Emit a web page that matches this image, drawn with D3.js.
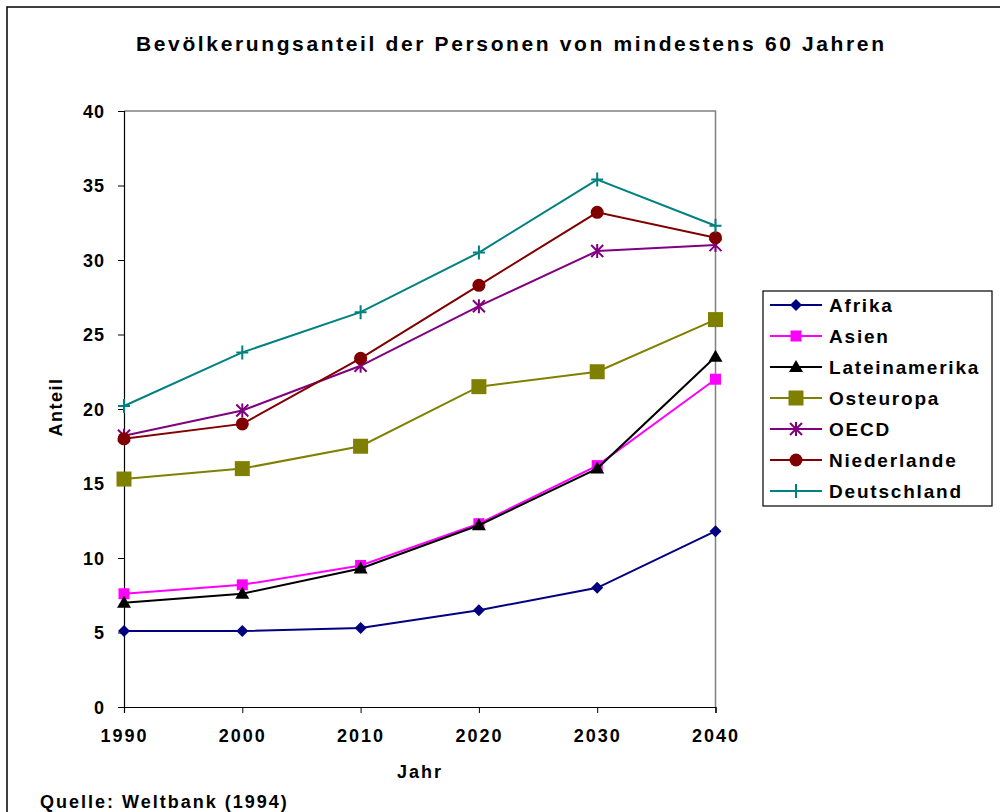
<!DOCTYPE html>
<html><head><meta charset="utf-8">
<script src="https://cdn.jsdelivr.net/npm/d3@7/dist/d3.min.js"></script>
<style>body{margin:0;background:#fff}svg{display:block}text{font-family:"Liberation Sans",Arial,sans-serif;font-weight:bold}</style>
</head><body>
<svg id="c" width="1000" height="812"></svg>
<script>
const years = [1990, 2000, 2010, 2020, 2030, 2040];
const afrika = [5.1, 5.1, 5.3, 6.5, 8.0, 11.8];
const asien = [7.6, 8.2, 9.5, 12.3, 16.2, 22.0];
const lateinamerika = [7.0, 7.6, 9.3, 12.2, 16.0, 23.5];
const osteuropa = [15.3, 16.0, 17.5, 21.5, 22.5, 26.0];
const oecd = [18.2, 19.9, 22.9, 26.9, 30.6, 31.0];
const niederlande = [18.0, 19.0, 23.4, 28.3, 33.2, 31.5];
const deutschland = [20.2, 23.8, 26.5, 30.5, 35.4, 32.3];
const yTicks = [0, 5, 10, 15, 20, 25, 30, 35, 40];

const series = [
  {name: "Afrika", values: afrika, color: "#000080", marker: "diamond"},
  {name: "Asien", values: asien, color: "#ff00ff", marker: "square"},
  {name: "Lateinamerika", values: lateinamerika, color: "#000000", marker: "triangle"},
  {name: "Osteuropa", values: osteuropa, color: "#808000", marker: "bigsquare"},
  {name: "OECD", values: oecd, color: "#800080", marker: "star"},
  {name: "Niederlande", values: niederlande, color: "#800000", marker: "circle"},
  {name: "Deutschland", values: deutschland, color: "#008080", marker: "plus"}
];

const svg = d3.select("#c");
const L = 124, R = 715.5, T = 111, B = 707;
const x = d3.scaleLinear().domain([1990, 2040]).range([L, R]);
const y = d3.scaleLinear().domain([0, 40]).range([B, T]);

// outer frame
svg.append("rect").attr("x", 7).attr("y", 7).attr("width", 1010).attr("height", 830)
  .attr("fill", "none").attr("stroke", "#000").attr("stroke-width", 1.5);

// title
svg.append("text").attr("x", 510).attr("y", 51).attr("text-anchor", "middle")
  .attr("font-size", 21).attr("textLength", 748).attr("lengthAdjust", "spacing")
  .text("Bevölkerungsanteil der Personen von mindestens 60 Jahren");

// plot area frame (top/right gray)
svg.append("path").attr("d", `M${L},${T}H${R}V${B}`).attr("fill", "none")
  .attr("stroke", "#808080").attr("stroke-width", 1.5);

// axes
const yAxis = d3.axisLeft(y).tickValues(yTicks).tickSize(6).tickPadding(13).tickFormat(d3.format("d"));
const gy = svg.append("g").attr("transform", `translate(${L},0)`).call(yAxis);
gy.select(".domain").attr("stroke", "#000").attr("stroke-width", 1.2);
gy.selectAll(".tick line").attr("stroke", "#000");
gy.selectAll("text").attr("font-size", 18).attr("font-family", "Liberation Sans, Arial, sans-serif")
  .attr("font-weight", "bold").attr("fill", "#000").attr("letter-spacing", 1).attr("dy", "0.35em");

const xAxis = d3.axisBottom(x).tickValues(years).tickSize(6).tickPadding(16).tickFormat(d3.format("d"));
const gx = svg.append("g").attr("transform", `translate(0,${B})`).call(xAxis);
gx.select(".domain").attr("stroke", "#000").attr("stroke-width", 1.2);
gx.selectAll(".tick line").attr("stroke", "#000");
gx.selectAll("text").attr("font-size", 18).attr("font-family", "Liberation Sans, Arial, sans-serif")
  .attr("font-weight", "bold").attr("fill", "#000").attr("letter-spacing", 2);

// axis labels
svg.append("text").attr("x", 420).attr("y", 778).attr("text-anchor", "middle").attr("font-size", 18)
  .attr("letter-spacing", 2).text("Jahr");
svg.append("text").attr("transform", "translate(62,407) rotate(-90)").attr("text-anchor", "middle")
  .attr("font-size", 18).attr("letter-spacing", 1.5).text("Anteil");
svg.append("text").attr("x", 40).attr("y", 808).attr("font-size", 18).attr("letter-spacing", 2)
  .text("Quelle: Weltbank (1994)");

function drawMarker(g, type, color) {
  switch (type) {
    case "diamond":
      g.append("path").attr("d", "M0,-6L6,0L0,6L-6,0Z").attr("fill", color); break;
    case "square":
      g.append("rect").attr("x", -5.5).attr("y", -5.5).attr("width", 11).attr("height", 11).attr("fill", color); break;
    case "bigsquare":
      g.append("rect").attr("x", -7.5).attr("y", -7.5).attr("width", 15).attr("height", 15).attr("fill", color); break;
    case "triangle":
      g.append("path").attr("d", "M0,-7L7,5L-7,5Z").attr("fill", color); break;
    case "circle":
      g.append("circle").attr("r", 6.5).attr("fill", color); break;
    case "star":
      g.append("path").attr("d", "M-6,-6L6,6M-6,6L6,-6M0,-7V7").attr("stroke", color).attr("stroke-width", 2).attr("fill", "none"); break;
    case "plus":
      g.append("path").attr("d", "M-6,0H6M0,-7V7").attr("stroke", color).attr("stroke-width", 2).attr("fill", "none"); break;
  }
}

const line = d3.line().x((d, i) => x(years[i])).y(d => y(d));
series.forEach(s => {
  svg.append("path").datum(s.values).attr("d", line).attr("fill", "none")
    .attr("stroke", s.color).attr("stroke-width", 2);
  s.values.forEach((v, i) => {
    const g = svg.append("g").attr("transform", `translate(${x(years[i])},${y(v)})`);
    drawMarker(g, s.marker, s.color);
  });
});

// legend
const lg = svg.append("g");
lg.append("rect").attr("x", 763).attr("y", 291).attr("width", 229).attr("height", 215)
  .attr("fill", "#fff").attr("stroke", "#000").attr("stroke-width", 1.2);
series.forEach((s, i) => {
  const yy = 305 + i * 31;
  lg.append("line").attr("x1", 770).attr("x2", 822).attr("y1", yy).attr("y2", yy)
    .attr("stroke", s.color).attr("stroke-width", 2);
  drawMarker(lg.append("g").attr("transform", `translate(796,${yy})`), s.marker, s.color);
  lg.append("text").attr("x", 829).attr("y", yy + 7).attr("font-size", 19).attr("letter-spacing", 1.8)
    .text(s.name);
});
</script>
</body></html>
